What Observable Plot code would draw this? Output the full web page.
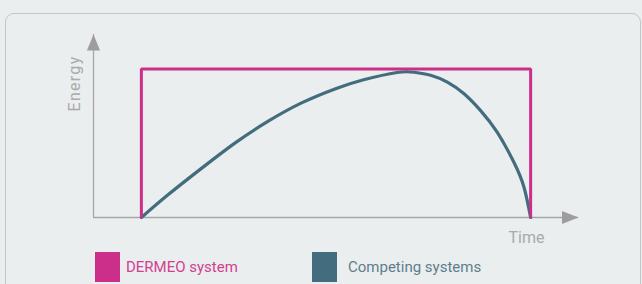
<!DOCTYPE html>
<html>
<head>
<meta charset="utf-8">
<script src="https://cdn.jsdelivr.net/npm/d3@7"></script>
<script src="https://cdn.jsdelivr.net/npm/@observablehq/plot@0.6"></script>
<style>
  html, body { margin: 0; padding: 0; background: #eaeeef; width: 642px; height: 284px; overflow: hidden; }
  #frame { position: absolute; left: 5px; top: 13px; width: 634px; height: 300px; border: 1px solid #c4c6c7; border-radius: 9px; box-sizing: content-box; }
  #chart { position: absolute; left: 0; top: 0; width: 642px; }
  #legend { display: flex; height: 30px; margin-top: 2px; padding-left: 95px; font-family: Roboto, sans-serif; font-size: 15px; }
  .item { display: flex; align-items: center; width: 217px; }
  .swatch { width: 25px; height: 30px; margin-right: 6px; flex: none; }
  .item:nth-child(2) .swatch { margin-right: 11px; }
</style>
</head>
<body>
<div id="frame"></div>
<div id="chart"></div>
<script>
// ---- data ----
const seriesNames = ["DERMEO system", "Competing systems"];
const seriesColors = ["#cc2f89", "#436c7e"];
const legendTextColors = ["#d2418f", "#5e7e8b"];
const axisLabels = ["Energy", "Time"];

// DERMEO: constant-energy pulse
const pulseTime = [0, 0, 100, 100];
const pulseEnergy = [0, 100, 100, 0];

// Competing systems: energy rising then collapsing
const compTime = [0, 7.0, 15.6, 24.2, 32.7, 41.3, 49.9, 57.1, 65.7, 70.0, 74.3, 78.6, 82.9, 87.1, 91.4, 95.7, 98.3, 100];
const compEnergy = [0, 15.6, 33.4, 50.4, 65.0, 77.3, 86.7, 92.7, 97.6, 97.8, 95.8, 91.1, 83.3, 72.1, 57.4, 37.2, 20.4, 0];

const xDomain = [-12.3, 112.3];
const yDomain = [0, 123.2];

// ---- tables ----
const pulse = pulseTime.map((t, i) => ({t, e: pulseEnergy[i]}));
const comp = compTime.map((t, i) => ({t, e: compEnergy[i]}));

const arrowRight = { draw(ctx) { ctx.moveTo(0, 0); ctx.lineTo(-16.5, -6.4); ctx.lineTo(-16.5, 6.4); ctx.closePath(); } };
const arrowUp = { draw(ctx) { ctx.moveTo(0, 0); ctx.lineTo(-6.6, 16); ctx.lineTo(6.6, 16); ctx.closePath(); } };

const axisGray = "#a6a6a6";
const labelGray = "#a9aaab";

const plot = Plot.plot({
  width: 642,
  height: 250,
  marginLeft: 93,
  marginRight: 64,
  marginTop: 34,
  marginBottom: 33,
  style: { background: "transparent", fontFamily: "Roboto, sans-serif" },
  x: { domain: xDomain, axis: null },
  y: { domain: yDomain, axis: null },
  marks: [
    Plot.ruleY([0], { stroke: axisGray, strokeWidth: 1.3 }),
    Plot.ruleX([xDomain[0]], { stroke: axisGray, strokeWidth: 1.3, y1: 0, y2: yDomain[1] }),
    Plot.dot([[xDomain[1], 0]], { x: d => d[0], y: d => d[1], symbol: arrowRight, fill: "#9d9d9d", stroke: "none" }),
    Plot.dot([[xDomain[0], yDomain[1]]], { x: d => d[0], y: d => d[1], symbol: arrowUp, fill: "#9d9d9d", stroke: "none" }),
    Plot.line(comp, { x: "t", y: "e", stroke: seriesColors[1], strokeWidth: 3.2, curve: "natural" }),
    Plot.line(pulse, { x: "t", y: "e", stroke: seriesColors[0], strokeWidth: 3, strokeLinejoin: "miter", strokeLinecap: "butt" }),
    Plot.text([axisLabels[0]], { text: d => d, frameAnchor: "top-left", dx: -25, dy: 49, rotate: -90, fill: labelGray, fontSize: 16, textAnchor: "middle" }),
    Plot.text([axisLabels[1]], { text: d => d, frameAnchor: "bottom-right", dx: -52, dy: 25.5, fill: labelGray, fontSize: 16, textAnchor: "middle" })
  ]
});
d3.select(plot).selectAll("text").filter(function() { return this.textContent === axisLabels[0]; }).attr("letter-spacing", "1.3px");
document.getElementById("chart").appendChild(plot);

const legend = document.createElement("div");
legend.id = "legend";
seriesNames.forEach((name, i) => {
  const item = document.createElement("div");
  item.className = "item";
  const sw = document.createElement("div");
  sw.className = "swatch";
  sw.style.background = seriesColors[i];
  const label = document.createElement("span");
  label.textContent = name;
  label.style.color = legendTextColors[i];
  item.appendChild(sw);
  item.appendChild(label);
  legend.appendChild(item);
});
document.getElementById("chart").appendChild(legend);
</script>
</body>
</html>
